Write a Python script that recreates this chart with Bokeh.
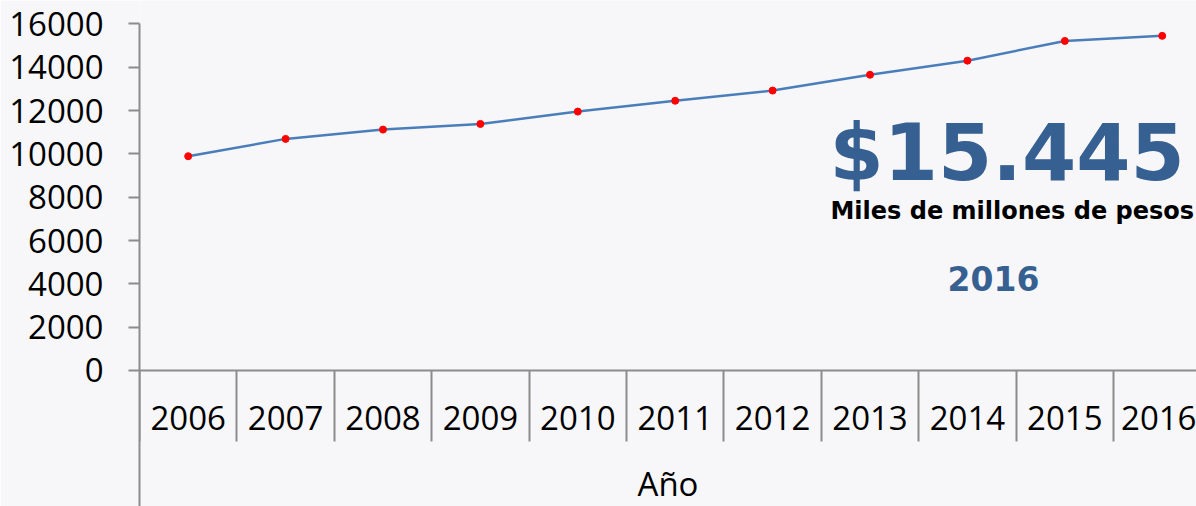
from bokeh.plotting import figure
from bokeh.models import Range1d, LinearAxis, FixedTicker, Label
from bokeh.embed import file_html
from bokeh.resources import INLINE

years = ["2006", "2007", "2008", "2009", "2010", "2011", "2012", "2013", "2014", "2015", "2016"]
values = [9890, 10690, 11120, 11380, 11950, 12450, 12920, 13650, 14300, 15210, 15445]
y_ticks = [0, 2000, 4000, 6000, 8000, 10000, 12000, 14000, 16000]
big_value = "$15.445"
unit_text = "Miles de millones de pesos"
year_text = "2016"
x_title = "Año"

BG = "#f7f7f9"
AXIS = "#8c8c8c"
BLUE = "#376092"
FONT = "Open Sans"
BIG = "DejaVu Sans"

xs = list(range(len(years)))
ymin, ymax = -6277, 17077

p = figure(width=1196, height=506, output_backend="svg", toolbar_location=None,
           x_range=Range1d(-0.5, 10.352), y_range=Range1d(ymin, ymax),
           x_axis_location=None, y_axis_location="left",
           min_border_left=139, min_border_right=0, min_border_top=0, min_border_bottom=0)
p.background_fill_color = BG
p.border_fill_color = BG
p.outline_line_color = None
p.grid.visible = False

# y axis
ya = p.yaxis[0]
ya.ticker = FixedTicker(ticks=y_ticks, minor_ticks=[])
ya.bounds = (ymin, 16000)
ya.axis_line_color = AXIS
ya.axis_line_width = 2
ya.major_tick_line_color = AXIS
ya.major_tick_line_width = 2
ya.major_tick_out = 11
ya.major_tick_in = 0
ya.minor_tick_line_color = None
ya.major_label_text_font = FONT
ya.major_label_text_font_size = "33px"
ya.major_label_text_color = "black"
ya.major_label_standoff = 25

# x axis at y=0 with category separators drawn as minor ticks
xa = LinearAxis(fixed_location=0)
xa.ticker = FixedTicker(ticks=xs, minor_ticks=[i - 0.5 for i in range(len(years) + 1)])
xa.bounds = (-0.5, len(years) - 0.5)
xa.major_label_overrides = {i: y for i, y in enumerate(years)}
xa.axis_line_color = AXIS
xa.axis_line_width = 2
xa.major_tick_line_color = None
xa.major_tick_out = 0
xa.major_tick_in = 0
xa.minor_tick_line_color = AXIS
xa.minor_tick_line_width = 2
xa.minor_tick_out = 71
xa.minor_tick_in = 0
xa.major_label_text_font = FONT
xa.major_label_text_font_size = "33px"
xa.major_label_text_color = "black"
xa.major_label_standoff = -35
xa.axis_label = x_title
xa.axis_label_text_font = FONT
xa.axis_label_text_font_size = "33px"
xa.axis_label_text_font_style = "normal"
xa.axis_label_text_color = "black"
xa.axis_label_standoff = 27
p.add_layout(xa, "below")

p.line(xs, values, line_color="#4a7ebb", line_width=2.5)
p.scatter(xs, values, size=7, fill_color="#ff0000", line_color="#ff0000")

p.add_layout(Label(x=6.584, y=10061, text=big_value, text_font=BIG, text_font_style="bold",
                   text_font_size="78px", text_color=BLUE, text_baseline="middle"))
p.add_layout(Label(x=6.594, y=7352, text=unit_text, text_font=BIG, text_font_style="bold",
                   text_font_size="24px", text_color="black", text_baseline="middle"))
p.add_layout(Label(x=7.796, y=4264, text=year_text, text_font=BIG, text_font_style="bold",
                   text_font_size="33px", text_color=BLUE, text_baseline="middle"))

open("out.html", "w").write(file_html(p, INLINE))
